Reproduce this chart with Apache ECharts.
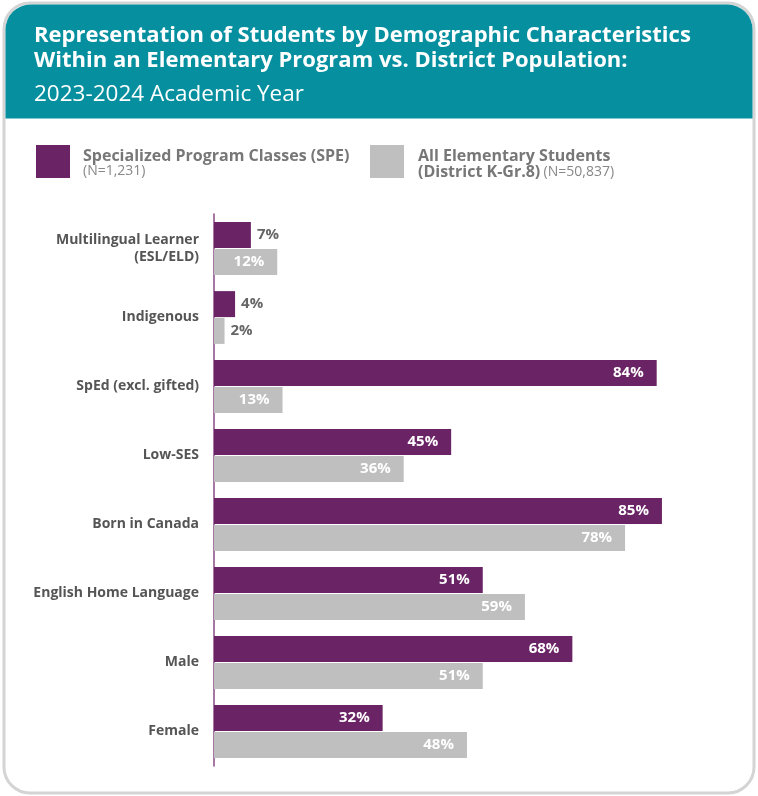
<!DOCTYPE html>
<html><head><meta charset="utf-8">
<script src="https://cdn.jsdelivr.net/npm/echarts@6/dist/echarts.min.js"></script>
<style>html,body{margin:0;padding:0;background:#fff}#c{width:758px;height:796px}</style>
</head><body><div id="c"></div>
<script>
const categories = ["Multilingual Learner\n(ESL/ELD)", "Indigenous", "SpEd (excl. gifted)", "Low-SES", "Born in Canada", "English Home Language", "Male", "Female"];
const speValues = [7, 4, 84, 45, 85, 51, 68, 32];
const allValues = [12, 2, 13, 36, 78, 59, 51, 48];

const PURPLE = '#6a2465', GREY = '#bfbfbf', TEAL = '#058f9f';
const FONT = '"Open Sans"';

function items(vals, insideColor) {
  return vals.map(v => ({
    value: v,
    label: v <= 7
      ? { position: 'right', color: '#666', distance: 6 }
      : { position: 'insideRight', color: insideColor, distance: 13 }
  }));
}

const chart = echarts.init(document.getElementById('c'), null, { renderer: 'canvas' });
chart.setOption({
  animation: false,
  textStyle: { fontFamily: FONT },
  graphic: [
    { type: 'rect', shape: { x: 4, y: 3, width: 750, height: 790, r: 26 }, style: { fill: '#fff', stroke: '#d4d4d4', lineWidth: 3 }, z: -10 },
    { type: 'rect', shape: { x: 5.5, y: 4.5, width: 747, height: 114, r: [25, 25, 0, 0] }, style: { fill: TEAL }, z: -9 },
    { type: 'text', style: { x: 34, y: 36, verticalAlign: 'middle', text: 'Representation of Students by Demographic Characteristics', fill: '#fff', font: 'bold 22px "Open Sans"' } },
    { type: 'text', style: { x: 34, y: 61, verticalAlign: 'middle', text: 'Within an Elementary Program vs. District Population:', fill: '#fff', font: 'bold 22px "Open Sans"' } },
    { type: 'text', style: { x: 34, y: 95, verticalAlign: 'middle', text: '2023-2024 Academic Year', fill: '#fff', font: '22.5px "Open Sans"' } },
    { type: 'rect', shape: { x: 36, y: 145, width: 34, height: 33 }, style: { fill: PURPLE } },
    { type: 'text', style: { x: 83, y: 156, verticalAlign: 'middle', text: 'Specialized Program Classes (SPE)', fill: '#777', font: 'bold 16px "Open Sans"' } },
    { type: 'text', style: { x: 83, y: 171, verticalAlign: 'middle', text: '(N=1,231)', fill: '#888', font: '14px "Open Sans"' } },
    { type: 'rect', shape: { x: 370, y: 145, width: 34, height: 33 }, style: { fill: GREY } },
    { type: 'text', style: { x: 418, y: 156, verticalAlign: 'middle', text: 'All Elementary Students', fill: '#777', font: 'bold 16px "Open Sans"' } },
    { type: 'text', style: { x: 418, y: 172, verticalAlign: 'middle', rich: { b: { fill: '#777', font: 'bold 16px "Open Sans"' }, n: { fill: '#888', font: '14px "Open Sans"' } }, text: '{b|(District K-Gr.8)} {n|(N=50,837)}' } }
  ],
  grid: { left: 214, right: 17, top: 214, bottom: 30, containLabel: false },
  xAxis: { type: 'value', min: 0, max: 100, show: false },
  yAxis: {
    type: 'category', data: categories, inverse: true,
    axisLine: { show: true, lineStyle: { color: '#8a4a86', width: 1.5 } },
    axisTick: { show: false },
    axisLabel: { color: '#555', fontWeight: 'bold', fontSize: 14, fontFamily: FONT, margin: 15, align: 'right', lineHeight: 17 }
  },
  series: [
    { name: 'SPE', type: 'bar', data: items(speValues, '#fff'), barWidth: 26, barGap: '3%', barCategoryGap: '24%',
      itemStyle: { color: PURPLE },
      label: { show: true, formatter: '{c}%', fontWeight: 'bold', fontSize: 15, fontFamily: FONT } },
    { name: 'All', type: 'bar', data: items(allValues, '#fff'), barWidth: 26,
      itemStyle: { color: GREY },
      label: { show: true, formatter: '{c}%', fontWeight: 'bold', fontSize: 15, fontFamily: FONT } }
  ]
});
</script></body></html>
